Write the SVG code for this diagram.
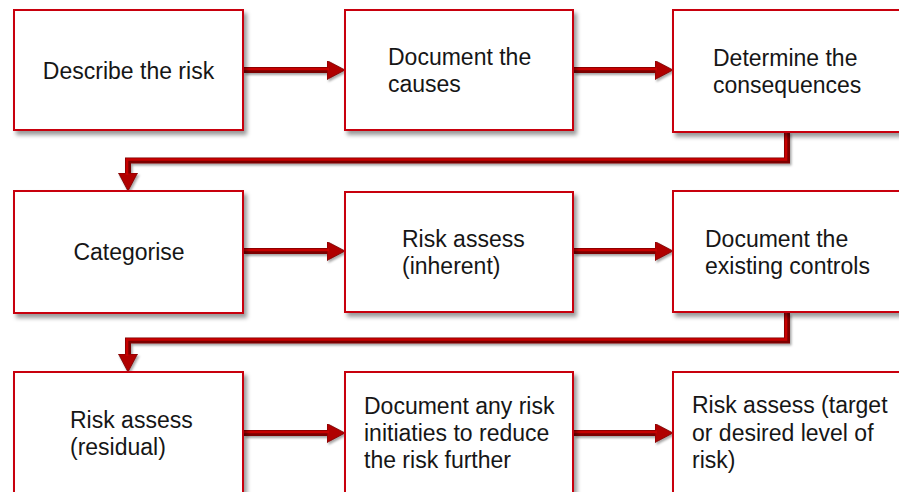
<svg xmlns="http://www.w3.org/2000/svg" width="899" height="492" viewBox="0 0 899 492">
<defs>
<filter id="sh" x="-10%" y="-10%" width="130%" height="130%">
<feDropShadow dx="3" dy="4" stdDeviation="2" flood-color="#000" flood-opacity="0.4"/>
</filter>
<filter id="lsh" x="-5%" y="-50%" width="110%" height="200%">
<feDropShadow dx="1.5" dy="2" stdDeviation="1.2" flood-color="#000" flood-opacity="0.35"/>
</filter>
<marker id="ah" markerUnits="userSpaceOnUse" markerWidth="18" markerHeight="20" refX="2" refY="9.5" orient="auto">
<path d="M0,0 L18,9.5 L0,19 Z" fill="#b00000" stroke="#7a0000" stroke-width="0.8"/>
</marker>
<style>
.box{fill:#fff;stroke:#c8000a;stroke-width:2;filter:url(#sh)}
.lbl{font-family:"Liberation Sans",Arial,sans-serif;font-size:23px;fill:#161616}
.c-o{fill:none;stroke:#7d0000;stroke-width:6}
.c-i{fill:none;stroke:#c80000;stroke-width:2.6}
</style>
</defs>
<rect width="899" height="492" fill="#fff"/>

<g id="connectors" filter="url(#lsh)">
<path class="c-o" d="M244,70 H329" marker-end="url(#ah)"/>
<path class="c-i" d="M244,69 H329"/>
<path class="c-o" d="M574,70 H657" marker-end="url(#ah)"/>
<path class="c-i" d="M574,69 H657"/>
<path class="c-o" d="M787,132 V160.5 H128 V175" marker-end="url(#ah)"/>
<path class="c-i" d="M786,132 V159.5 H127 V175"/>
<path class="c-o" d="M244,251 H329" marker-end="url(#ah)"/>
<path class="c-i" d="M244,250 H329"/>
<path class="c-o" d="M574,251 H657" marker-end="url(#ah)"/>
<path class="c-i" d="M574,250 H657"/>
<path class="c-o" d="M787,313 V340.5 H128 V356" marker-end="url(#ah)"/>
<path class="c-i" d="M786,313 V339.5 H127 V356"/>
<path class="c-o" d="M244,433 H329" marker-end="url(#ah)"/>
<path class="c-i" d="M244,432 H329"/>
<path class="c-o" d="M574,433 H657" marker-end="url(#ah)"/>
<path class="c-i" d="M574,432 H657"/>
</g>

<g id="n1"><rect class="box" x="14" y="10" width="229" height="120"/>
<text class="lbl" x="128.5" y="79" text-anchor="middle">Describe the risk</text></g>
<g id="n2"><rect class="box" x="345" y="10" width="228" height="120"/>
<text class="lbl" x="388" y="65">Document the</text><text class="lbl" x="388" y="92">causes</text></g>
<g id="n3"><rect class="box" x="673" y="10" width="229" height="122"/>
<text class="lbl" x="713" y="66">Determine the</text><text class="lbl" x="713" y="93">consequences</text></g>

<g id="n4"><rect class="box" x="14" y="191" width="229" height="122"/>
<text class="lbl" x="129" y="260" text-anchor="middle">Categorise</text></g>
<g id="n5"><rect class="box" x="345" y="192" width="228" height="120"/>
<text class="lbl" x="402" y="247">Risk assess</text><text class="lbl" x="402" y="274">(inherent)</text></g>
<g id="n6"><rect class="box" x="673" y="191" width="229" height="121"/>
<text class="lbl" x="705" y="247">Document the</text><text class="lbl" x="705" y="274">existing controls</text></g>

<g id="n7"><rect class="box" x="14" y="372" width="229" height="130"/>
<text class="lbl" x="70" y="428">Risk assess</text><text class="lbl" x="70" y="455">(residual)</text></g>
<g id="n8"><rect class="box" x="345" y="372" width="228" height="130"/>
<text class="lbl" x="364" y="414">Document any risk</text><text class="lbl" x="364" y="441">initiaties to reduce</text><text class="lbl" x="364" y="468">the risk further</text></g>
<g id="n9"><rect class="box" x="673" y="372" width="229" height="130"/>
<text class="lbl" x="692" y="413">Risk assess (target</text><text class="lbl" x="692" y="441">or desired level of</text><text class="lbl" x="692" y="468">risk)</text></g>
</svg>
